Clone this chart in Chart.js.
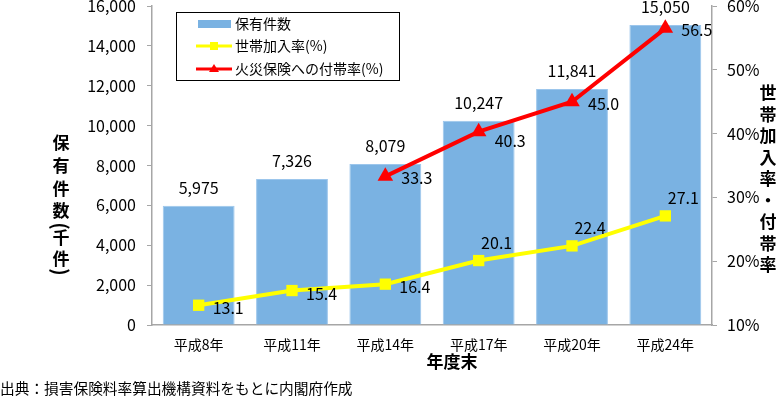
<!DOCTYPE html>
<html lang="ja">
<head>
<meta charset="utf-8" />
<title>火災保険 地震保険</title>
<script src="https://cdn.jsdelivr.net/npm/chart.js@4.4.0/dist/chart.umd.min.js"></script>
<style>
  html, body { margin: 0; padding: 0; background: #fff; }
  #wrap { width: 780px; height: 397px; position: relative; }
</style>
</head>
<body>
<div id="wrap"><canvas id="chart" width="780" height="397"></canvas></div>
<script>
// data
var years = ['平成8年', '平成11年', '平成14年', '平成17年', '平成20年', '平成24年'];
var contracts = [5975, 7326, 8079, 10247, 11841, 15050];       // 保有件数 (千件)
var householdRate = [13.1, 15.4, 16.4, 20.1, 22.4, 27.1];       // 世帯加入率 (%)
var attachRate = [null, null, 33.3, 40.3, 45.0, 56.5];          // 火災保険への付帯率 (%)
var seriesNames = ['保有件数', '世帯加入率(%)', '火災保険への付帯率(%)'];

// where each line label sits relative to its point
var householdLabelPos = ['right', 'right', 'right', 'above', 'above', 'above'];

var FONT = '"Noto Sans CJK JP", "Noto Sans", sans-serif';
var BAR = '#7AB2E2';
var AXIS = '#A6A6A6';

var labelsPlugin = {
  id: 'labels',
  afterDatasetsDraw: function (chart) {
    var ctx = chart.ctx;
    ctx.save();
    ctx.fillStyle = '#000';
    ctx.font = '16px ' + FONT;
    ctx.textBaseline = 'middle';

    // bar values
    chart.getDatasetMeta(0).data.forEach(function (el, i) {
      ctx.textAlign = 'center';
      ctx.fillText(contracts[i].toLocaleString('en-US'), el.x, el.y - 18);
    });
    // household rate
    chart.getDatasetMeta(1).data.forEach(function (el, i) {
      if (householdLabelPos[i] === 'right') {
        ctx.textAlign = 'left';
        ctx.fillText(householdRate[i].toFixed(1), el.x + 14, el.y + 3);
      } else {
        ctx.textAlign = 'center';
        ctx.fillText(householdRate[i].toFixed(1), el.x + 18, el.y - 18);
      }
    });
    // attach rate
    chart.getDatasetMeta(2).data.forEach(function (el, i) {
      if (attachRate[i] === null) return;
      ctx.textAlign = 'left';
      ctx.fillText(attachRate[i].toFixed(1), el.x + 16, el.y + (i === 3 ? 9 : 2));
    });
    ctx.restore();
  },
  afterDraw: function (chart) {
    var ctx = chart.ctx;
    ctx.save();

    // legend box
    var lx = 176, ly = 12, lw = 223, lh = 68;
    ctx.fillStyle = '#fff';
    ctx.fillRect(lx, ly, lw, lh);
    ctx.strokeStyle = '#000';
    ctx.lineWidth = 1;
    ctx.strokeRect(lx + 0.5, ly + 0.5, lw, lh);

    ctx.font = '14px ' + FONT;
    ctx.textAlign = 'left';
    ctx.textBaseline = 'middle';

    ctx.fillStyle = BAR;
    ctx.fillRect(198, 20, 33, 8);
    ctx.fillStyle = '#000';
    ctx.fillText(seriesNames[0], 235, 24);

    ctx.strokeStyle = '#FFFF00';
    ctx.lineWidth = 3;
    ctx.beginPath(); ctx.moveTo(196, 46); ctx.lineTo(232, 46); ctx.stroke();
    ctx.fillStyle = '#FFFF00';
    ctx.fillRect(210, 42, 8, 8);
    ctx.fillStyle = '#000';
    ctx.fillText(seriesNames[1], 235, 46);

    ctx.strokeStyle = '#FF0000';
    ctx.beginPath(); ctx.moveTo(196, 69); ctx.lineTo(232, 69); ctx.stroke();
    ctx.fillStyle = '#FF0000';
    ctx.beginPath(); ctx.moveTo(214, 64); ctx.lineTo(219, 72); ctx.lineTo(209, 72); ctx.closePath(); ctx.fill();
    ctx.fillStyle = '#000';
    ctx.fillText(seriesNames[2], 235, 69);

    // vertical axis titles
    ctx.font = 'bold 17px ' + FONT;
    ctx.textAlign = 'center';
    var left = ['保', '有', '件', '数', '(', '千', '件', ')'];
    var leftY = [143, 166, 189, 211, 226, 238, 259, 272];
    left.forEach(function (c, i) {
      if (c === '(' || c === ')') {
        ctx.save();
        ctx.translate(61, leftY[i]);
        ctx.rotate(Math.PI / 2);
        ctx.font = 'bold 20px ' + FONT;
        ctx.fillText(c, 0, 0);
        ctx.restore();
      } else {
        ctx.fillText(c, 61, leftY[i]);
      }
    });

    var right = ['世', '帯', '加', '入', '率', '・', '付', '帯', '率'];
    right.forEach(function (c, i) { ctx.fillText(c, 768, 93 + i * 21.5); });

    // x axis title
    ctx.font = 'bold 17px ' + FONT;
    ctx.fillText('年度末', 452, 362);

    // source note
    ctx.font = '14.7px ' + FONT;
    ctx.textAlign = 'left';
    ctx.fillText('出典：損害保険料率算出機構資料をもとに内閣府作成', 0, 388);
    ctx.restore();
  }
};

function fixY(width) {
  return function (s) {
    s.width = width;
    s.paddingTop = 0;
    s.paddingBottom = 0;
  };
}

var ctx = document.getElementById('chart').getContext('2d');
var chart = new Chart(ctx, {
  type: 'bar',
  data: {
    labels: years,
    datasets: [{
      type: 'bar',
      label: seriesNames[0],
      data: contracts,
      backgroundColor: BAR,
      borderColor: '#9CC6EC',
      borderWidth: 1,
      barPercentage: 0.77,
      categoryPercentage: 1,
      yAxisID: 'y',
      order: 3
    }, {
      type: 'line',
      label: seriesNames[1],
      data: householdRate,
      borderColor: '#FFFF00',
      backgroundColor: '#FFFF00',
      borderWidth: 4,
      pointStyle: 'rect',
      pointRadius: 8,
      pointBorderWidth: 0,
      yAxisID: 'y2',
      order: 1
    }, {
      type: 'line',
      label: seriesNames[2],
      data: attachRate,
      borderColor: '#FF0000',
      backgroundColor: '#FF0000',
      borderWidth: 4,
      pointStyle: 'triangle',
      pointRadius: 9,
      pointBorderWidth: 0,
      yAxisID: 'y2',
      order: 0
    }]
  },
  options: {
    responsive: false,
    animation: false,
    layout: { autoPadding: false, padding: { top: 6, left: 0, right: 0, bottom: 0 } },
    plugins: { legend: { display: false }, tooltip: { enabled: false } },
    scales: {
      x: {
        offset: true,
        grid: { display: false },
        border: { color: AXIS, width: 1.5 },
        ticks: { color: '#000', font: { family: FONT, size: 14 }, padding: 3, maxRotation: 0 },
        afterFit: function (s) { s.height = 72; s.paddingLeft = 0; s.paddingRight = 0; }
      },
      y: {
        position: 'left',
        min: 0, max: 16000,
        grid: { drawOnChartArea: false, color: AXIS, tickLength: 5 },
        border: { color: AXIS, width: 1.5 },
        ticks: {
          stepSize: 2000, color: '#000', padding: 11,
          font: { family: FONT, size: 16 },
          callback: function (v) { return v.toLocaleString('en-US'); }
        },
        afterFit: fixY(152)
      },
      y2: {
        position: 'right',
        min: 10, max: 60,
        grid: { drawOnChartArea: false, color: AXIS, tickLength: 5 },
        border: { color: AXIS, width: 1.5 },
        ticks: {
          stepSize: 10, color: '#000', padding: 10,
          font: { family: FONT, size: 16 },
          callback: function (v) { return v + '%'; }
        },
        afterFit: fixY(68)
      }
    }
  },
  plugins: [labelsPlugin]
});
</script>
</body>
</html>
